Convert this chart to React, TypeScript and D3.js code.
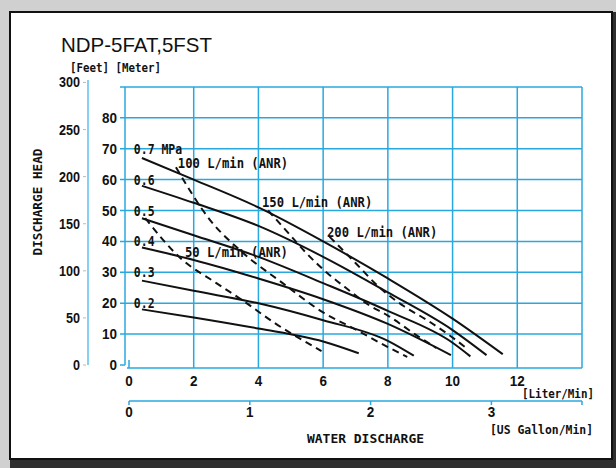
import React, { useEffect, useRef } from 'react'
import * as d3 from 'd3'

const W = 616
const H = 468

// Axis ticks
const literTicks = [0, 2, 4, 6, 8, 10, 12]
const literGrid = [2, 4, 6, 8, 10, 12, 14]
const gallonTicks = [0, 1, 2, 3]
const meterTicks = [0, 10, 20, 30, 40, 50, 60, 70, 80]
const meterGrid = [10, 20, 30, 40, 50, 60, 70, 80, 90]
const feetTicks = [0, 50, 100, 150, 200, 250, 300]

// Pressure curves (solid): [L/min, head m]
const pressureNames = ['0.7 MPa', '0.6', '0.5', '0.4', '0.3', '0.2']
const pressureLabelHead = [70, 60, 50, 40, 30, 20]
const p07: [number, number][] = [[0.4, 67], [2, 60], [4, 51], [6, 40], [8, 28], [10, 15], [11.55, 3.5]]
const p06: [number, number][] = [[0.4, 58], [2, 52.5], [4, 45], [6, 35], [8, 23.5], [10, 11.3], [11.05, 3.2]]
const p05: [number, number][] = [[0.4, 47.5], [2, 42], [4, 35], [6, 26.5], [8, 17.5], [10, 7.2], [10.55, 2.8]]
const p04: [number, number][] = [[0.4, 38], [2, 34], [4, 28], [6, 21.3], [8, 13.3], [9.95, 3.2]]
const p03: [number, number][] = [[0.4, 27.3], [2, 24], [4, 20], [6, 14.5], [8, 7.8], [8.8, 3]]
const p02: [number, number][] = [[0.4, 18], [2, 15.4], [4, 11.8], [6, 7.6], [7.1, 3.8]]
const pressureSeries = [p07, p06, p05, p04, p03, p02]

// Air consumption curves (dashed): [L/min, head m]
const airNames = ['50 L/min (ANR)', '100 L/min (ANR)', '150 L/min (ANR)', '200 L/min (ANR)']
const airLabelPos: [number, number][] = [[1.73, 36.6], [1.51, 65.4], [4.11, 52.8], [6.12, 43]]
const a50: [number, number][] = [[0.5, 47.5], [1.6, 34.5], [2.7, 26.5], [3.5, 21], [4.5, 13.6], [5.95, 4.5]]
const a100: [number, number][] = [[1.45, 64], [2.5, 47], [3.5, 36.5], [4.75, 26.5], [6, 17], [7, 11.5], [8, 5.8], [8.6, 2.6]]
const a150: [number, number][] = [[4.3, 50], [4.9, 43], [5.5, 36], [6.1, 30], [6.7, 25], [7.4, 19.5], [8, 16], [8.9, 9.5], [9.5, 5.5]]
const a200: [number, number][] = [[6.2, 41.5], [7, 33], [7.75, 25], [8.5, 19], [9.2, 14.6], [9.8, 10.4], [10.45, 5.3]]
const airSeries = [a50, a100, a150, a200]

const GRID = '#29a8e0'
const MONO = '"DejaVu Sans Mono", monospace'
const SANS = '"Liberation Sans", Arial, sans-serif'

export default function App() {
  const ref = useRef<SVGSVGElement>(null)

  useEffect(() => {
    if (!ref.current) return
    const svg = d3.select(ref.current)
    svg.selectAll('*').remove()

    const x = d3.scaleLinear().domain([0, 14]).range([129, 582])
    const gal = d3.scaleLinear().domain([0, 3.75]).range([129, 582])
    const y = d3.scaleLinear().domain([0, 90]).range([365, 86.9])
    const yFt = d3.scaleLinear().domain([0, 90 * 3.2808]).range([365, 86.9])

    const text = (s: string, px: number, py: number, o: any = {}) => {
      const t = svg.append('text')
        .attr('x', px)
        .attr('y', py)
        .attr('font-family', o.family || MONO)
        .attr('font-size', o.size || 13)
        .attr('font-weight', o.weight || 'bold')
        .attr('text-anchor', o.anchor || 'start')
        .attr('fill', '#111')
        .text(s)
      if (o.len) t.attr('textLength', o.len).attr('lengthAdjust', 'spacingAndGlyphs')
      if (o.rotate) t.attr('transform', `rotate(${o.rotate},${px},${py})`)
      return t
    }

    // background / frame
    svg.append('rect').attr('width', W).attr('height', H).attr('fill', '#d0d0d0')
    svg.append('rect').attr('x', 10).attr('y', 12).attr('width', 606).attr('height', 456).attr('fill', '#2f2f2f')
    svg.append('rect').attr('x', 10).attr('y', 12).attr('width', 602).attr('height', 447)
      .attr('fill', '#fff').attr('stroke', '#111').attr('stroke-width', 2)

    // grid
    const g = svg.append('g').attr('stroke', GRID).attr('stroke-width', 1.5).attr('fill', 'none')
    g.selectAll('line.v').data(literGrid).enter().append('line')
      .attr('x1', d => x(d)).attr('x2', d => x(d)).attr('y1', y(90)).attr('y2', 368)
    g.selectAll('line.h').data(meterGrid).enter().append('line')
      .attr('x1', 120).attr('x2', x(14)).attr('y1', d => y(d)).attr('y2', d => y(d))
    // meter axis
    g.append('line').attr('x1', 125).attr('x2', 125).attr('y1', y(90)).attr('y2', y(0))
    g.append('line').attr('x1', 120).attr('x2', 125).attr('y1', y(0)).attr('y2', y(0))
    // liter axis
    g.append('line').attr('x1', 127).attr('x2', x(14)).attr('y1', 368).attr('y2', 368)
    g.append('line').attr('x1', x(0)).attr('x2', x(0)).attr('y1', 360).attr('y2', 368)
    // gallon axis
    g.append('line').attr('x1', gal(0)).attr('x2', x(14)).attr('y1', 401).attr('y2', 401)
    g.selectAll('line.gt').data([...gallonTicks, 3.75]).enter().append('line')
      .attr('x1', d => gal(d)).attr('x2', d => gal(d)).attr('y1', 401).attr('y2', 405)
    // feet axis
    svg.append('line').attr('x1', 88).attr('x2', 88).attr('y1', 80).attr('y2', 365)
      .attr('stroke', '#5ec0ec').attr('stroke-width', 1.5)
    svg.selectAll('line.ft').data(feetTicks).enter().append('line')
      .attr('x1', 83).attr('x2', 86).attr('y1', d => yFt(d)).attr('y2', d => yFt(d))
      .attr('stroke', '#bbb').attr('stroke-width', 1)

    // tick labels
    feetTicks.forEach(d => text(String(d), 80, yFt(d) + 5, { family: SANS, size: 14, anchor: 'end', len: String(d).length * 7 }))
    meterTicks.forEach(d => text(String(d), 117, y(d) + 5, { family: SANS, size: 14, anchor: 'end', len: String(d).length * 7.5 }))
    literTicks.forEach(d => text(String(d), x(d), 386, { family: SANS, size: 14, anchor: 'middle', len: String(d).length * 7.5 }))
    gallonTicks.forEach(d => text(String(d), gal(d), 417, { family: SANS, size: 14, anchor: 'middle', len: 7.5 }))

    // curves
    const line = d3.line<[number, number]>()
      .x(d => x(d[0]))
      .y(d => y(d[1]))
      .curve(d3.curveMonotoneX)

    svg.selectAll('path.p').data(pressureSeries).enter().append('path')
      .attr('d', d => line(d))
      .attr('fill', 'none').attr('stroke', '#111').attr('stroke-width', 2)

    svg.selectAll('path.a').data(airSeries).enter().append('path')
      .attr('d', d => line(d))
      .attr('fill', 'none').attr('stroke', '#111').attr('stroke-width', 2)
      .attr('stroke-dasharray', '7,5')

    // curve labels
    pressureNames.forEach((n, i) => text(n, x(0.15), y(pressureLabelHead[i]) + 5, { size: 14, len: n.length * 6.9 }))
    airNames.forEach((n, i) => text(n, x(airLabelPos[i][0]), y(airLabelPos[i][1]) + 5, { size: 14, len: n.length * 7.35 }))

    // titles
    text('NDP-5FAT,5FST', 61, 52, { family: SANS, size: 21, weight: 'normal', len: 151 })
    text('[Feet] [Meter]', 70, 72, { size: 13, len: 91 })
    text('DISCHARGE HEAD', 42, 202, { size: 13, anchor: 'middle', len: 107, rotate: -90 })
    text('[Liter/Min]', 522, 398, { size: 13, len: 72 })
    text('[US Gallon/Min]', 490, 434, { size: 13, len: 103 })
    text('WATER  DISCHARGE', 307, 443, { size: 13, len: 117 })
  }, [])

  return (
    <div style={{ position: 'absolute', left: 0, top: 0 }}>
      <svg ref={ref} width={W} height={H} style={{ display: 'block' }} />
    </div>
  )
}
